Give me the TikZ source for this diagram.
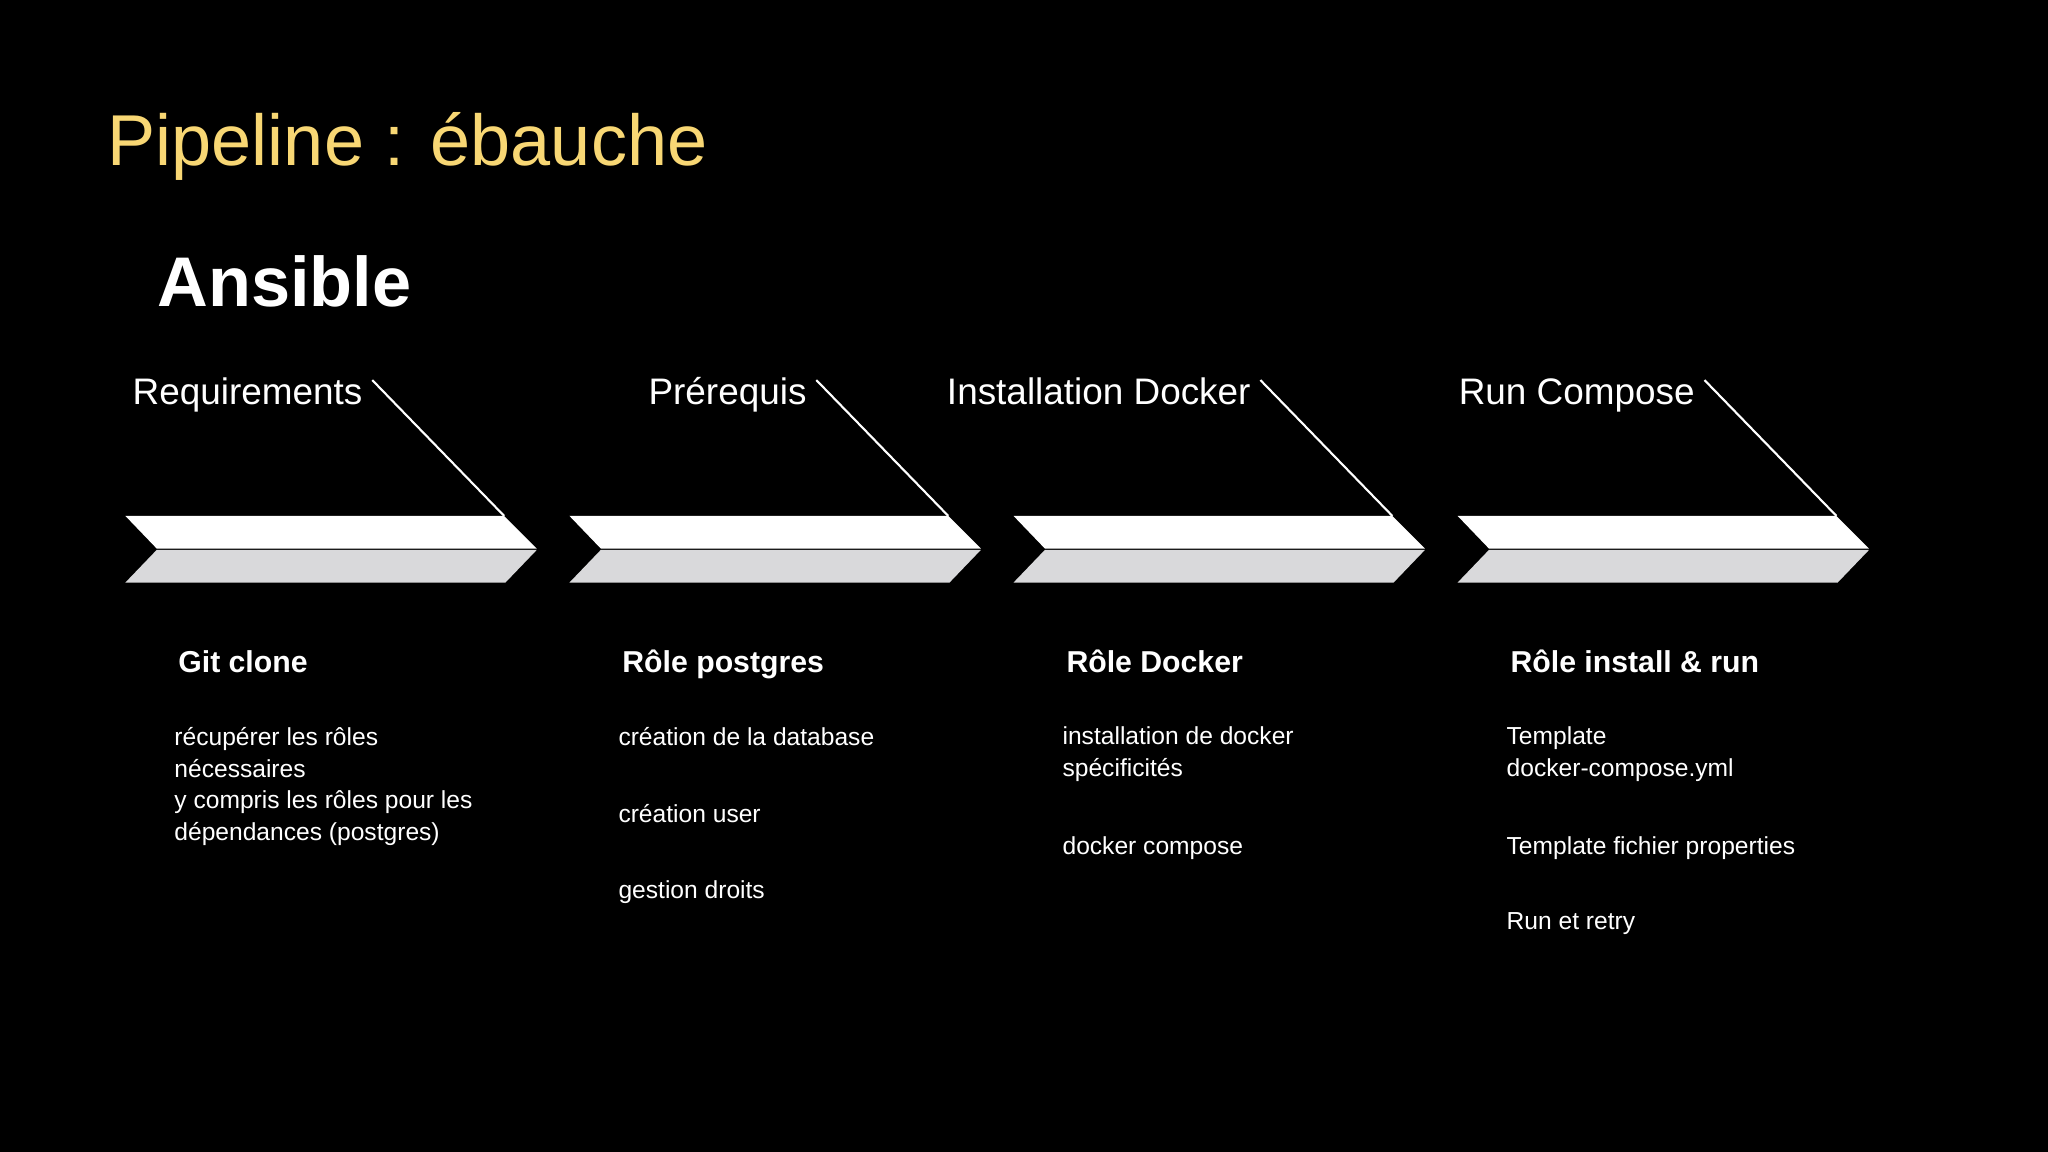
\documentclass[tikz,border=0pt]{standalone}
\usepackage{fontspec}
\setmainfont{Liberation Sans}
\definecolor{ttl}{HTML}{F8D774}
\definecolor{band}{HTML}{D9D9DB}
\begin{document}
\begin{tikzpicture}[x=0.013061cm,y=-0.013061cm,
  steptitle/.style={text=white,font=\fontsize{10.5}{12}\selectfont,anchor=base east,inner sep=0},
  subhead/.style={text=white,font=\bfseries\fontsize{8.6}{10}\selectfont,anchor=base west,inner sep=0},
  body/.style={text=white,font=\fontsize{7}{9.1}\selectfont,anchor=north west,inner sep=0,align=left}]
\fill[black] (0,0) rectangle (1568,882);
\useasboundingbox (0,0) rectangle (1568,882);
\node[text=ttl,font=\fontsize{20.5}{24}\selectfont,anchor=base west,inner sep=0] (title) at (82,127) {Pipeline : ébauche};
\node[text=white,font=\bfseries\fontsize{20}{24}\selectfont,anchor=base west,inner sep=0] (ans) at (120,235) {Ansible};
\foreach \i/\t in {0/Requirements,1/Prérequis,2/Installation Docker,3/Run Compose}{
  \begin{scope}[xshift=\i*340*0.013061cm]
  \fill[white] (96,395) -- (386,395) -- (411,420) -- (120,420) -- cycle;
  \fill[band] (120,421) -- (411,421) -- (387,446) -- (96,446) -- cycle;
  \draw[white,line width=0.6pt] (285,291) -- (386,395);
  \node[steptitle] (t\i) at (278,310) {\t};
  \end{scope}
}
\node[subhead] (s0) at (136,515) {Git clone};
\node[subhead] (s1) at (476,515) {Rôle postgres};
\node[subhead] (s2) at (816,515) {Rôle Docker};
\node[subhead] (s3) at (1156,515) {Rôle install \& run};
\node[body] (b0) at (133,556) {récupérer les rôles\\nécessaires\\y compris les rôles pour les\\dépendances (postgres)};
\node[body] (b1a) at (473,556) {création de la database};
\node[body] (b1b) at (473,615) {création user};
\node[body] (b1c) at (473,674) {gestion droits};
\node[body] (b2a) at (813,556) {installation de docker\\spécificités};
\node[body] (b2b) at (813,640) {docker compose};
\node[body] (b3a) at (1153,556) {Template\\docker-compose.yml};
\node[body] (b3b) at (1153,640) {Template fichier properties};
\node[body] (b3c) at (1153,698) {Run et retry};
\end{tikzpicture}
\end{document}
